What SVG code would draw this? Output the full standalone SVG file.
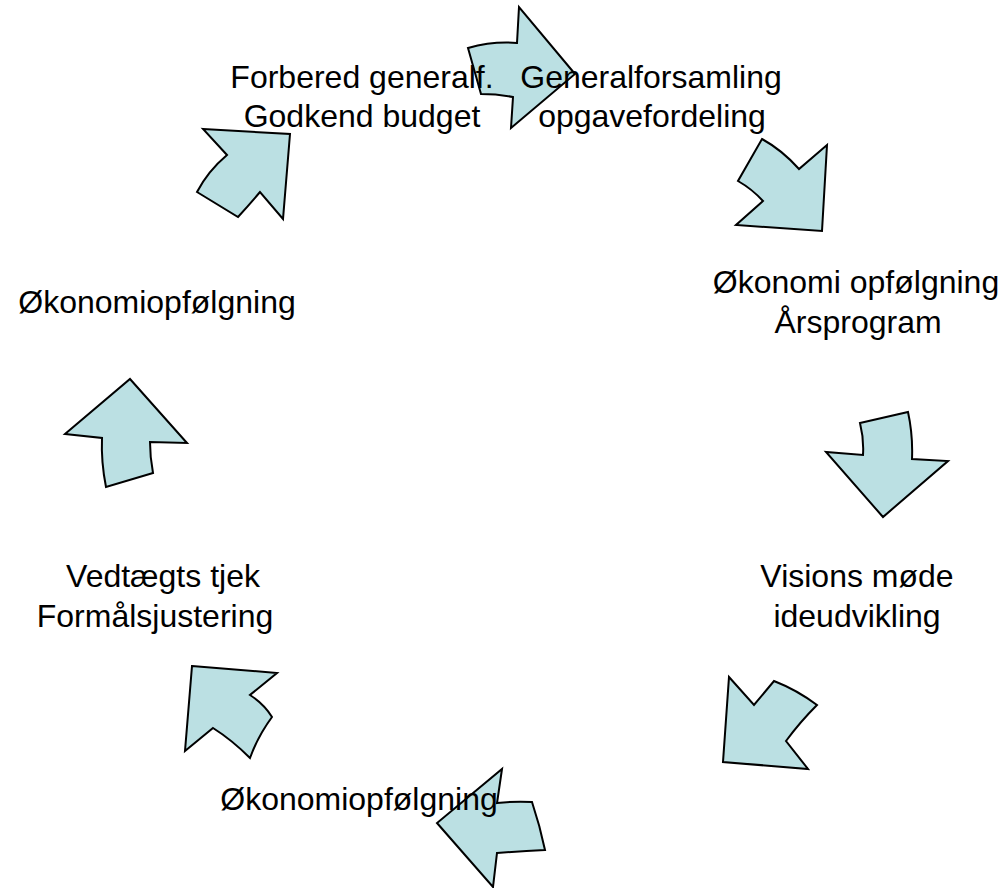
<svg xmlns="http://www.w3.org/2000/svg" width="1005" height="888" viewBox="0 0 1005 888">
<style>
.a{fill:#BBE0E3;stroke:#000;stroke-width:2;stroke-linejoin:miter}
.t{font-family:"Liberation Sans",Arial,sans-serif;font-size:32px;fill:#000;text-anchor:middle}
</style>
<rect width="1005" height="888" fill="#fff"/>
<g id="connectors">
<path id="arrow1" class="a" d="M468,48 Q493,41 517,43 L519,7 L575,74 L511,128 L513,97 Q497,94 481,94 Z"/>
<path id="arrow2" class="a" d="M762,139 Q782,150 799,169 L827,145 L822,231 L736,225 L763,201 Q752,189 738,181 Z"/>
<path id="arrow3" class="a" d="M860,423 L908,412 Q913,435 912,459 L948,461 L883,517 L826,452 L863,455 Q864,439 860,423 Z"/>
<path id="arrow4" class="a" d="M729,677 L754,705 L774,681 Q797,690 817,705 Q800,722 786,741 L808,769 L723,762 Z"/>
<path id="arrow5" class="a" d="M502,769 L497,803 Q515,801 532,802 Q540,826 545,850 Q521,851 497,853 L493,887 L437,823 Z"/>
<path id="arrow6" class="a" d="M192,666 L277,673 L250,695 Q264,704 272,717 Q258,736 250,758 Q232,740 213,728 L185,751 Z"/>
<path id="arrow7" class="a" d="M130,379 L187,443 L150,442 Q150,457 153,473 L106,487 Q101,462 102,438 L65,434 Z"/>
<path id="arrow8" class="a" d="M203,129 L290,134 L283,219 L260,192 Q249,205 238,217 L197,192 Q208,171 227,155 Z"/>
</g>
<g id="node-forbered"><text class="t" x="362" y="88">Forbered generalf.</text><text class="t" x="362" y="127">Godkend budget</text></g>
<g id="node-general"><text class="t" x="651" y="88">Generalforsamling</text><text class="t" x="652" y="127">opgavefordeling</text></g>
<g id="node-okonomi1"><text class="t" x="856" y="293">Økonomi opfølgning</text><text class="t" x="858" y="333">Årsprogram</text></g>
<g id="node-visions"><text class="t" x="857" y="587">Visions møde</text><text class="t" x="857" y="627">ideudvikling</text></g>
<g id="node-okonomi2"><text class="t" x="359" y="810">Økonomiopfølgning</text></g>
<g id="node-vedtaegt"><text class="t" x="163" y="587">Vedtægts tjek</text><text class="t" x="155" y="627">Formålsjustering</text></g>
<g id="node-okonomi3"><text class="t" x="157" y="313">Økonomiopfølgning</text></g>
</svg>
